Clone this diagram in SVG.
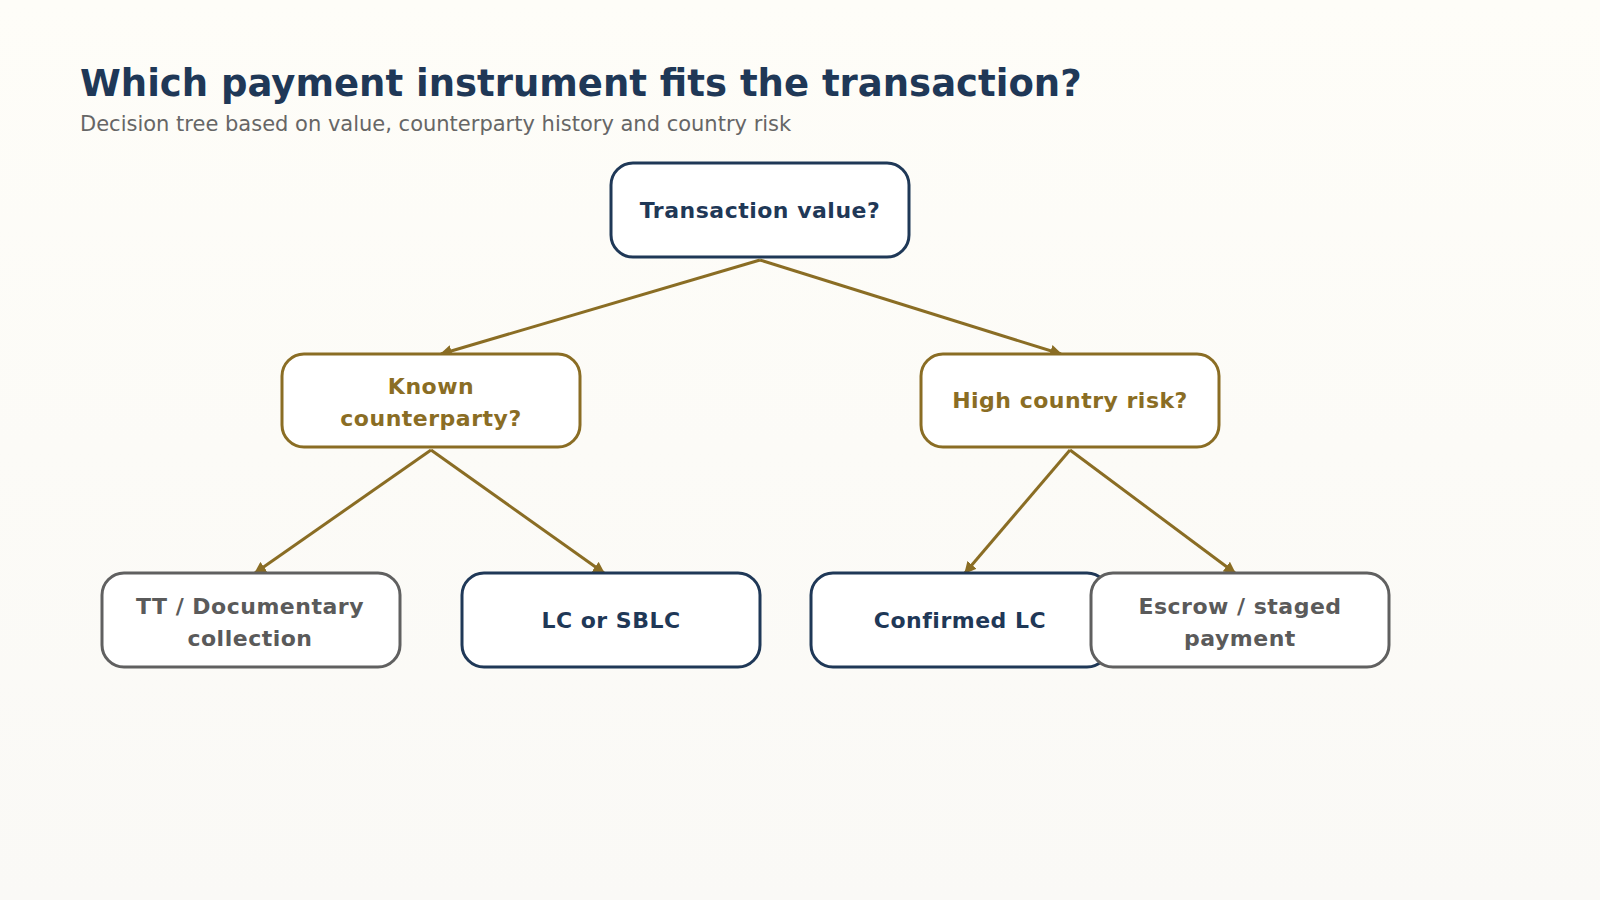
<svg xmlns="http://www.w3.org/2000/svg" width="1600" height="900" viewBox="0 0 1600 900">
<defs>
<linearGradient id="bg" x1="0" y1="0" x2="0" y2="1"><stop offset="0" stop-color="#fefdf8"/><stop offset="1" stop-color="#faf9f6"/></linearGradient>
<marker id="ah" viewBox="0 0 10 10" refX="9" refY="5" markerWidth="4" markerHeight="4" orient="auto"><path d="M0,0L10,5L0,10z" fill="#8a6d24"/></marker>
</defs>
<style>
text{font-family:"DejaVu Sans","Liberation Sans",sans-serif}
.n{fill:#fff;stroke-width:3}
.nav{stroke:#1f3857}.gold{stroke:#8a6d24}.grey{stroke:#606060}
.t{font-weight:bold;font-size:22px;text-anchor:middle;letter-spacing:0.5px}
.e{stroke:#8a6d24;stroke-width:3;fill:none;marker-end:url(#ah)}
</style>
<rect width="1600" height="900" fill="url(#bg)"/>
<text x="80" y="96" font-size="37" font-weight="bold" fill="#1f3857">Which payment instrument fits the transaction?</text>
<text x="80" y="131" font-size="21" fill="#666">Decision tree based on value, counterparty history and country risk</text>
<g id="connectors">
<path class="e" d="M760,260L441,354"/>
<path class="e" d="M760,260L1061,354"/>
<path class="e" d="M431,450L255,573"/>
<path class="e" d="M431,450L604,573"/>
<path class="e" d="M1070,450L965,573"/>
<path class="e" d="M1070,450L1235,573"/>
</g>
<g id="n-value"><rect class="n nav" x="611" y="163" width="298" height="94" rx="22"/><text class="t" x="760" y="218" fill="#1f3857">Transaction value?</text></g>
<g id="n-known"><rect class="n gold" x="282" y="354" width="298" height="93" rx="22"/><text class="t" x="431" y="394" fill="#8a6d24">Known</text><text class="t" x="431" y="426" fill="#8a6d24">counterparty?</text></g>
<g id="n-risk"><rect class="n gold" x="921" y="354" width="298" height="93" rx="22"/><text class="t" x="1070" y="408" fill="#8a6d24">High country risk?</text></g>
<g id="n-tt"><rect class="n grey" x="102" y="573" width="298" height="94" rx="22"/><text class="t" x="250" y="614" fill="#5a5a5a">TT / Documentary</text><text class="t" x="250" y="646" fill="#5a5a5a">collection</text></g>
<g id="n-lc"><rect class="n nav" x="462" y="573" width="298" height="94" rx="22"/><text class="t" x="611" y="628" fill="#1f3857">LC or SBLC</text></g>
<g id="n-clc"><rect class="n nav" x="811" y="573" width="298" height="94" rx="22"/><text class="t" x="960" y="628" fill="#1f3857">Confirmed LC</text></g>
<g id="n-escrow"><rect class="n grey" x="1091" y="573" width="298" height="94" rx="22"/><text class="t" x="1240" y="614" fill="#5a5a5a">Escrow / staged</text><text class="t" x="1240" y="646" fill="#5a5a5a">payment</text></g>
</svg>
